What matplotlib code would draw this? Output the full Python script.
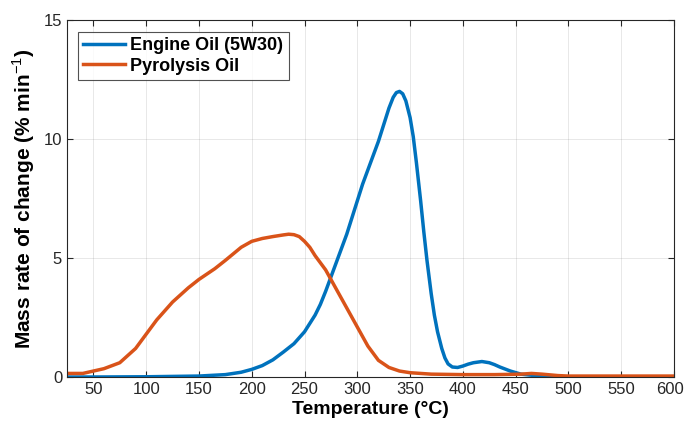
import matplotlib
matplotlib.use("Agg")
import matplotlib.pyplot as plt
from matplotlib.transforms import ScaledTranslation

plt.rcParams["font.family"] = ["Liberation Sans", "DejaVu Sans"]
plt.rcParams["mathtext.fontset"] = "custom"
plt.rcParams["mathtext.rm"] = "Liberation Sans"
plt.rcParams["mathtext.bf"] = "Liberation Sans:bold"

# Engine oil (5W30) DTG curve
engine_temp = [25, 50, 100, 150, 175, 190, 200, 210, 220, 230, 240, 250, 260,
               265, 270, 275, 280, 285, 290, 295, 300, 305, 310, 315, 320,
               325, 330, 334, 337, 340, 343, 346, 350, 353, 356, 360, 363,
               366, 370, 373, 376, 380, 383, 386, 390, 395, 400, 405, 410,
               418, 425, 430, 435, 445, 455, 470, 490, 500, 600]
engine_rate = [0.0, 0.0, 0.01, 0.04, 0.1, 0.2, 0.32, 0.48, 0.72, 1.05, 1.4,
               1.9, 2.6, 3.05, 3.6, 4.2, 4.8, 5.4, 6.0, 6.7, 7.4, 8.1, 8.7,
               9.3, 9.9, 10.6, 11.3, 11.75, 11.95, 12.0, 11.9, 11.6, 10.9,
               10.1, 9.0, 7.4, 6.1, 4.9, 3.5, 2.6, 1.9, 1.2, 0.8, 0.55, 0.42,
               0.4, 0.46, 0.54, 0.6, 0.65, 0.6, 0.52, 0.42, 0.25, 0.12, 0.05,
               0.02, 0.0, 0.0]

# Pyrolysis oil DTG curve
pyro_temp = [25, 40, 50, 60, 75, 90, 100, 110, 125, 140, 150, 165, 175, 190,
             200, 210, 220, 230, 235, 240, 245, 250, 255, 260, 270, 280, 290,
             300, 310, 320, 330, 340, 350, 370, 400, 430, 455, 465, 475, 490,
             500, 600]
pyro_rate = [0.15, 0.15, 0.25, 0.35, 0.6, 1.2, 1.8, 2.4, 3.15, 3.75, 4.1,
             4.55, 4.9, 5.45, 5.7, 5.82, 5.9, 5.97, 6.0, 5.98, 5.9, 5.7, 5.45,
             5.1, 4.5, 3.7, 2.9, 2.1, 1.3, 0.7, 0.4, 0.25, 0.18, 0.12, 0.1,
             0.1, 0.12, 0.15, 0.12, 0.06, 0.04, 0.04]

x_ticks = [50, 100, 150, 200, 250, 300, 350, 400, 450, 500, 550, 600]
y_ticks = [0, 5, 10, 15]

fig = plt.figure(figsize=(6.86, 4.30), dpi=100)
ax = fig.add_axes([67 / 686, 53 / 430, 607 / 686, 357 / 430])

ax.plot(engine_temp, engine_rate, color="#0072BD", linewidth=2.5,
        label="Engine Oil (5W30)", solid_joinstyle="round")
ax.plot(pyro_temp, pyro_rate, color="#D95319", linewidth=2.5,
        label="Pyrolysis Oil", solid_joinstyle="round")

ax.set_xlim(25, 600)
ax.set_ylim(0, 15)
ax.set_xticks(x_ticks)
ax.set_yticks(y_ticks)
ax.tick_params(direction="in", top=True, right=True, labelsize=12,
               colors="#262626", length=4)
for s in ax.spines.values():
    s.set_color("#262626")
    s.set_linewidth(0.8)
ax.grid(True, color="#262626", alpha=0.12, linewidth=0.6)

# last x label would run past the figure edge, nudge it left a bit
last = ax.get_xticklabels()[-1]
last.set_transform(last.get_transform()
                   + ScaledTranslation(-3 / 72, 0, fig.dpi_scale_trans))

ax.set_xlabel("Temperature (°C)", fontsize=14, fontweight="bold", labelpad=3)
ax.set_ylabel(r"Mass rate of change (% min$^{-1}$)", fontsize=15,
              fontweight="bold", labelpad=5)

leg = ax.legend(loc="upper left", bbox_to_anchor=(0.018, 0.967),
                prop={"weight": "bold", "size": 13}, fancybox=False,
                borderpad=0.3, handlelength=2.3, handletextpad=0.3,
                labelspacing=0.2, borderaxespad=0)
leg.get_frame().set_edgecolor("#262626")
leg.get_frame().set_linewidth(0.8)

fig.savefig("out.png", dpi=100)
